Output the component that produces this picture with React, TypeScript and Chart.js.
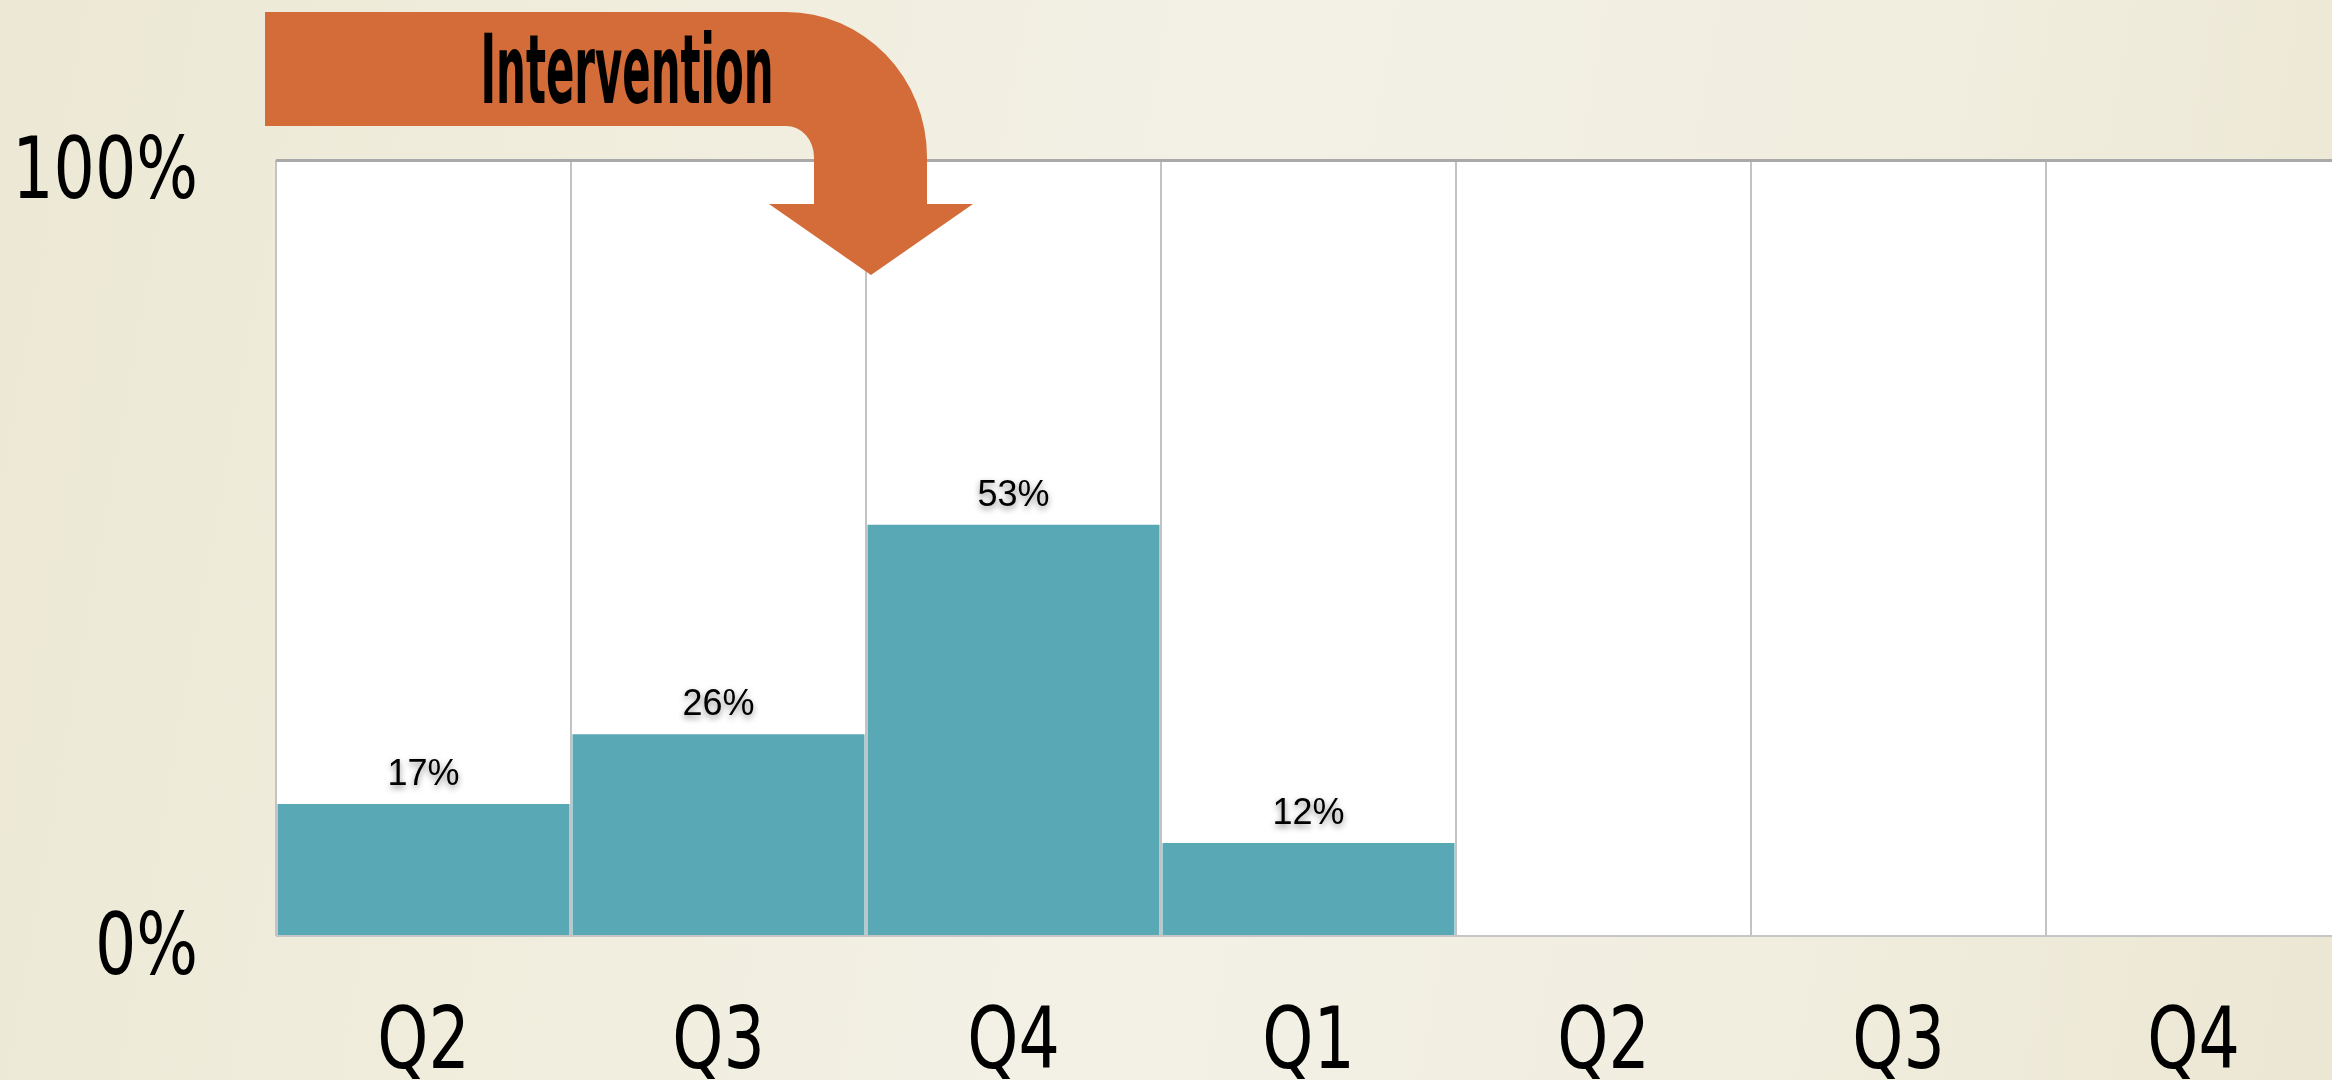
import React, { useEffect, useRef } from "react";
import { Chart, registerables } from "chart.js";

Chart.register(...registerables);

// ---- data ----
const categories = ["Q2", "Q3", "Q4", "Q1", "Q2", "Q3", "Q4"];
const values: (number | null)[] = [17, 26, 53, 12, null, null, null];
const yTickValues = [0, 100];
const yTickLabels = ["0%", "100%"];
const annotationText = "Intervention";
const interventionAfterIndex = 1; // arrow points between Q3 and Q4

// ---- styles ----
const BAR_COLOR = "#58A8B6";
const ARROW_COLOR = "#D36C39";
const TICK_FONT = "85px 'Liberation Sans Narrow', 'DejaVu Sans Condensed', 'DejaVu Sans', sans-serif";
const TICK_SCALE_X = 0.85;
const LABEL_FONT = "36px 'Liberation Sans', Arial, sans-serif";

const plotBackground = {
  id: "plotBackground",
  beforeDraw(chart: any) {
    const { ctx, chartArea } = chart;
    ctx.save();
    ctx.fillStyle = "#ffffff";
    ctx.fillRect(chartArea.left, chartArea.top, chartArea.right - chartArea.left, chartArea.bottom - chartArea.top);
    ctx.restore();
  },
};

// condensed axis labels, positioned by the chart's own scales
const axisLabels = {
  id: "axisLabels",
  afterDraw(chart: any) {
    const { ctx, chartArea } = chart;
    const xs = chart.scales.x;
    const ys = chart.scales.y;
    ctx.save();
    ctx.font = TICK_FONT;
    ctx.fillStyle = "#000";
    ctx.textBaseline = "alphabetic";
    yTickValues.forEach((v, i) => {
      const py = ys.getPixelForValue(v);
      ctx.save();
      ctx.translate(ys.right - 78, py + 38);
      ctx.scale(TICK_SCALE_X, 1);
      ctx.textAlign = "right";
      ctx.fillText(yTickLabels[i], 0, 0);
      ctx.restore();
    });
    categories.forEach((c, i) => {
      const px = xs.getPixelForValue(i);
      ctx.save();
      ctx.translate(px, chartArea.bottom + 132);
      ctx.scale(TICK_SCALE_X, 1);
      ctx.textAlign = "center";
      ctx.fillText(c, 0, 0);
      ctx.restore();
    });
    ctx.restore();
  },
};

const dataLabels = {
  id: "dataLabels",
  afterDatasetsDraw(chart: any) {
    const { ctx } = chart;
    const meta = chart.getDatasetMeta(0);
    meta.data.forEach((bar: any, i: number) => {
      const v = values[i];
      if (v == null) return;
      ctx.save();
      ctx.font = LABEL_FONT;
      ctx.fillStyle = "#000";
      ctx.textAlign = "center";
      ctx.textBaseline = "alphabetic";
      ctx.shadowColor = "rgba(0,0,0,0.45)";
      ctx.shadowBlur = 6;
      ctx.shadowOffsetY = 3;
      ctx.fillText(`${v}%`, bar.x, bar.y - 19);
      ctx.restore();
    });
  },
};

const interventionArrow = {
  id: "interventionArrow",
  afterDraw(chart: any) {
    const { ctx, chartArea } = chart;
    const xs = chart.scales.x;
    const mid = (xs.getPixelForValue(interventionAfterIndex) + xs.getPixelForValue(interventionAfterIndex + 1)) / 2;
    const cx = mid + 5;
    const top = chartArea.top;
    const barTop = top - 148;
    const barBottom = top - 34;
    const headBase = top + 44;
    const apex = top + 115;
    const left = chartArea.left - 11;
    const outerStartX = cx - 85;
    const outerRight = cx + 56;
    const stemLeft = cx - 57;
    const innerStartX = cx - 85;
    const curveEndY = top - 3;

    ctx.save();
    ctx.fillStyle = ARROW_COLOR;
    ctx.beginPath();
    ctx.moveTo(left, barTop);
    ctx.lineTo(outerStartX, barTop);
    ctx.ellipse(outerStartX, curveEndY, outerRight - outerStartX, curveEndY - barTop, 0, -Math.PI / 2, 0, false);
    ctx.lineTo(outerRight, headBase);
    ctx.lineTo(cx + 102, headBase);
    ctx.lineTo(cx, apex);
    ctx.lineTo(cx - 102, headBase);
    ctx.lineTo(stemLeft, headBase);
    ctx.lineTo(stemLeft, curveEndY);
    ctx.ellipse(innerStartX, curveEndY, stemLeft - innerStartX, curveEndY - barBottom, 0, 0, -Math.PI / 2, true);
    ctx.lineTo(left, barBottom);
    ctx.closePath();
    ctx.fill();

    ctx.font = "bold 96px 'Liberation Sans Narrow', 'DejaVu Sans Condensed', sans-serif";
    const w = ctx.measureText(annotationText).width;
    const sx = 293 / w;
    ctx.translate(cx - 244, top - 57);
    ctx.scale(sx, 1);
    ctx.fillStyle = "#000";
    ctx.textAlign = "center";
    ctx.textBaseline = "alphabetic";
    ctx.fillText(annotationText, 0, 0);
    ctx.restore();
  },
};

export default function App() {
  const canvasRef = useRef<HTMLCanvasElement | null>(null);

  useEffect(() => {
    if (!canvasRef.current) return;
    const chart = new Chart(canvasRef.current, {
      type: "bar",
      data: {
        labels: categories,
        datasets: [
          {
            data: values,
            backgroundColor: BAR_COLOR,
            borderWidth: 0,
            barPercentage: 0.99,
            categoryPercentage: 1,
          },
        ],
      },
      options: {
        responsive: false,
        animation: false,
        devicePixelRatio: 1,
        layout: { padding: { top: 160, right: 1, left: 0, bottom: 0 } },
        plugins: { legend: { display: false }, tooltip: { enabled: false } },
        scales: {
          x: {
            afterFit: (s: any) => {
              s.height = 144;
            },
            grid: { color: "#c3c3c3", lineWidth: 2, drawTicks: false, offset: true },
            border: { display: false },
            ticks: { display: false, autoSkip: false },
          },
          y: {
            min: 0,
            max: 100,
            afterBuildTicks: (s: any) => {
              s.ticks = yTickValues.map((v) => ({ value: v }));
            },
            afterFit: (s: any) => {
              s.width = 276;
            },
            grid: {
              drawTicks: false,
              color: (c: any) => (c.tick && c.tick.value === 100 ? "#a9a9a9" : "#c6c6c6"),
              lineWidth: (c: any) => (c.tick && c.tick.value === 100 ? 3 : 2),
            },
            border: { display: false },
            ticks: { display: false },
          },
        },
      },
      plugins: [plotBackground, dataLabels, axisLabels, interventionArrow],
    });
    return () => chart.destroy();
  }, []);

  return (
    <div
      style={{
        position: "fixed",
        left: 0,
        top: 0,
        width: 2332,
        height: 1080,
        overflow: "hidden",
        background:
          "linear-gradient(100deg, #ECE8D5 0%, #F0EDDD 25%, #F3F1E6 50%, #F1EEE0 75%, #ECE7D3 100%)",
      }}
    >
      <canvas ref={canvasRef} width={2342} height={1080} style={{ display: "block" }} />
    </div>
  );
}
